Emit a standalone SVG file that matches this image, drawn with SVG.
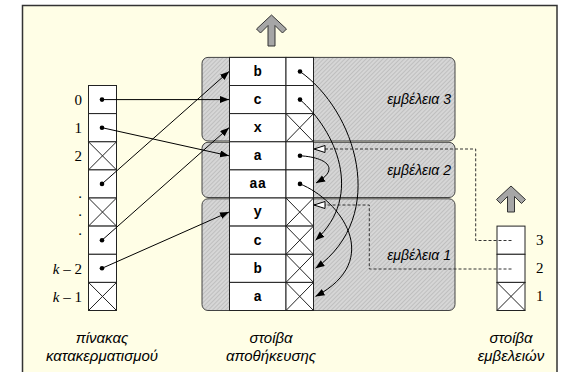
<svg xmlns="http://www.w3.org/2000/svg" width="566" height="372" viewBox="0 0 566 372">
<style>
.cell{fill:#fff;stroke:#222;stroke-width:1}
.xl{stroke:#222;stroke-width:1}
.dot{fill:#000}
.rg{fill:url(#hatch);stroke:#444;stroke-width:1}
.mono{font-family:"Liberation Mono","Courier New",monospace;font-weight:bold;font-size:14px;text-anchor:middle}
.ser{font-family:"Liberation Serif","Times New Roman",serif;font-size:15px}
.it{font-family:"Liberation Sans",Arial,sans-serif;font-style:italic;font-size:14px}
.lb{font-family:"Liberation Sans",Arial,sans-serif;font-style:italic;font-size:15px;text-anchor:middle}
.con{fill:none;stroke:#000;stroke-width:1}
.dash{fill:none;stroke:#333;stroke-width:1;stroke-dasharray:3,2}
.blk{fill:#a6a6a6;stroke:#333;stroke-width:1;stroke-linejoin:round}
</style>
<defs>
<pattern id="hatch" patternUnits="userSpaceOnUse" width="3" height="3" patternTransform="rotate(45)">
<rect width="3" height="3" fill="#d6d6d6"/>
<line x1="0" y1="0" x2="0" y2="3" stroke="#a8a8a8" stroke-width="1"/>
</pattern>
<marker id="ah" markerUnits="userSpaceOnUse" markerWidth="10" markerHeight="8" refX="9" refY="3.5" orient="auto">
<path d="M0,0 L9,3.5 L0,7 z" fill="#000"/>
</marker>
<marker id="oh" markerUnits="userSpaceOnUse" markerWidth="13" markerHeight="9" refX="11.5" refY="4" orient="auto">
<path d="M0.5,0.5 L11.5,4 L0.5,7.5 z" fill="#fff" stroke="#000" stroke-width="1"/>
</marker>
</defs>
<rect x="22.5" y="5.5" width="534.5" height="380" fill="#fffee6" stroke="#333" stroke-width="1.5"/>

<g id="regions">
<rect class="rg" x="202" y="57.4" width="253" height="83.6" rx="6"/>
<rect class="rg" x="202" y="142.3" width="253" height="55.2" rx="6"/>
<rect class="rg" x="202" y="198.8" width="253" height="111.7" rx="6"/>
<text class="it" x="451" y="104" text-anchor="end">εμβέλεια 3</text>
<text class="it" x="451" y="175" text-anchor="end">εμβέλεια 2</text>
<text class="it" x="451" y="260" text-anchor="end">εμβέλεια 1</text>
</g>

<g id="hash-table">
<rect class="cell" x="88.5" y="85.5" width="28" height="28.1"/>
<rect class="cell" x="88.5" y="113.6" width="28" height="28.2"/>
<rect class="cell" x="88.5" y="141.8" width="28" height="28.1"/>
<rect class="cell" x="88.5" y="169.9" width="28" height="28.1"/>
<rect class="cell" x="88.5" y="198" width="28" height="28.1"/>
<rect class="cell" x="88.5" y="226.1" width="28" height="28.2"/>
<rect class="cell" x="88.5" y="254.3" width="28" height="28.1"/>
<rect class="cell" x="88.5" y="282.4" width="28" height="28.1"/>
<path class="xl" d="M88.5,141.8 L116.5,169.9 M116.5,141.8 L88.5,169.9 M88.5,198 L116.5,226.1 M116.5,198 L88.5,226.1 M88.5,282.4 L116.5,310.5 M116.5,282.4 L88.5,310.5"/>
<circle class="dot" cx="102" cy="99.6" r="2.3"/>
<circle class="dot" cx="102" cy="127.7" r="2.3"/>
<circle class="dot" cx="102" cy="183.9" r="2.3"/>
<circle class="dot" cx="102" cy="240.2" r="2.3"/>
<circle class="dot" cx="102" cy="268.3" r="2.3"/>
<text class="ser" x="82" y="104.5" text-anchor="end">0</text>
<text class="ser" x="82" y="132.5" text-anchor="end">1</text>
<text class="ser" x="82" y="160.5" text-anchor="end">2</text>
<text class="ser" x="82" y="198" text-anchor="end">.</text>
<text class="ser" x="82" y="216" text-anchor="end">.</text>
<text class="ser" x="82" y="235" text-anchor="end">.</text>
<text class="ser" x="82" y="273.5" text-anchor="end"><tspan font-style="italic">k</tspan> – 2</text>
<text class="ser" x="82" y="301.5" text-anchor="end"><tspan font-style="italic">k</tspan> – 1</text>
<text class="lb" x="102" y="343">πίνακας</text>
<text class="lb" x="102" y="361">κατακερματισμού</text>
</g>

<g id="storage-stack">
<rect class="cell" x="229.5" y="57.4" width="56.5" height="28.1"/>
<rect class="cell" x="229.5" y="85.5" width="56.5" height="28.1"/>
<rect class="cell" x="229.5" y="113.6" width="56.5" height="28.2"/>
<rect class="cell" x="229.5" y="141.8" width="56.5" height="28.1"/>
<rect class="cell" x="229.5" y="169.9" width="56.5" height="28.1"/>
<rect class="cell" x="229.5" y="198" width="56.5" height="28.1"/>
<rect class="cell" x="229.5" y="226.1" width="56.5" height="28.2"/>
<rect class="cell" x="229.5" y="254.3" width="56.5" height="28.1"/>
<rect class="cell" x="229.5" y="282.4" width="56.5" height="28.1"/>
<rect class="cell" x="286" y="57.4" width="27.5" height="28.1"/>
<rect class="cell" x="286" y="85.5" width="27.5" height="28.1"/>
<rect class="cell" x="286" y="113.6" width="27.5" height="28.2"/>
<rect class="cell" x="286" y="141.8" width="27.5" height="28.1"/>
<rect class="cell" x="286" y="169.9" width="27.5" height="28.1"/>
<rect class="cell" x="286" y="198" width="27.5" height="28.1"/>
<rect class="cell" x="286" y="226.1" width="27.5" height="28.2"/>
<rect class="cell" x="286" y="254.3" width="27.5" height="28.1"/>
<rect class="cell" x="286" y="282.4" width="27.5" height="28.1"/>
<path class="xl" d="M286,113.6 L313.5,141.8 M313.5,113.6 L286,141.8 M286,198 L313.5,226.1 M313.5,198 L286,226.1 M286,226.1 L313.5,254.3 M313.5,226.1 L286,254.3 M286,254.3 L313.5,282.4 M313.5,254.3 L286,282.4 M286,282.4 L313.5,310.5 M313.5,282.4 L286,310.5"/>
<text class="mono" x="257.7" y="76">b</text>
<text class="mono" x="257.7" y="104">c</text>
<text class="mono" x="257.7" y="132">x</text>
<text class="mono" x="257.7" y="160">a</text>
<text class="mono" x="257.7" y="188">aa</text>
<text class="mono" x="257.7" y="216">y</text>
<text class="mono" x="257.7" y="244.5">c</text>
<text class="mono" x="257.7" y="272.5">b</text>
<text class="mono" x="257.7" y="300.5">a</text>
<circle class="dot" cx="300" cy="71.5" r="2.3"/>
<circle class="dot" cx="300" cy="99.6" r="2.3"/>
<circle class="dot" cx="300" cy="155.8" r="2.3"/>
<circle class="dot" cx="300" cy="183.9" r="2.3"/>
<polygon class="blk" points="271.5,15 286.5,29 282.5,33 275,25.5 275,46 268,46 268,25.5 260.5,33 256.5,29"/>
<text class="lb" x="271" y="343">στοίβα</text>
<text class="lb" x="271" y="361">αποθήκευσης</text>
</g>

<g id="scope-stack">
<rect class="cell" x="497" y="226.1" width="28" height="28.2"/>
<rect class="cell" x="497" y="254.3" width="28" height="28.1"/>
<rect class="cell" x="497" y="282.4" width="28" height="28.1"/>
<path class="xl" d="M497,282.4 L525,310.5 M525,282.4 L497,310.5"/>
<text class="ser" x="536" y="245">3</text>
<text class="ser" x="536" y="273">2</text>
<text class="ser" x="536" y="301">1</text>
<polygon class="blk" points="511,186 525.5,199.5 521.5,203.5 514.5,196.5 514.5,212 507.5,212 507.5,196.5 500.5,203.5 496.5,199.5"/>
<text class="lb" x="511" y="343">στοίβα</text>
<text class="lb" x="511" y="361">εμβελειών</text>
</g>

<g id="connectors">
<line class="con" x1="102" y1="99.6" x2="229" y2="99.6" marker-end="url(#ah)"/>
<line class="con" x1="102" y1="127.7" x2="229" y2="155.8" marker-end="url(#ah)"/>
<line class="con" x1="102" y1="183.9" x2="229" y2="71.5" marker-end="url(#ah)"/>
<line class="con" x1="102" y1="240.2" x2="229" y2="127.7" marker-end="url(#ah)"/>
<line class="con" x1="102" y1="268.3" x2="229" y2="212" marker-end="url(#ah)"/>
<path class="con" d="M300,71.5 C355,110 390,215 315.5,268.3" marker-end="url(#ah)"/>
<path class="con" d="M300,99.6 C335,130 365,195 315.5,240.2" marker-end="url(#ah)"/>
<path class="con" d="M300,183.9 C340,200 385,260 315.5,296.4" marker-end="url(#ah)"/>
<path class="con" d="M300,155.8 C325,157 342,168 316,183" marker-end="url(#ah)"/>
<path class="dash" d="M511.5,240.5 H475.7 V149 H314" marker-end="url(#oh)"/>
<path class="dash" d="M511.5,269 H369.3 V205 H314" marker-end="url(#oh)"/>
</g>
</svg>
